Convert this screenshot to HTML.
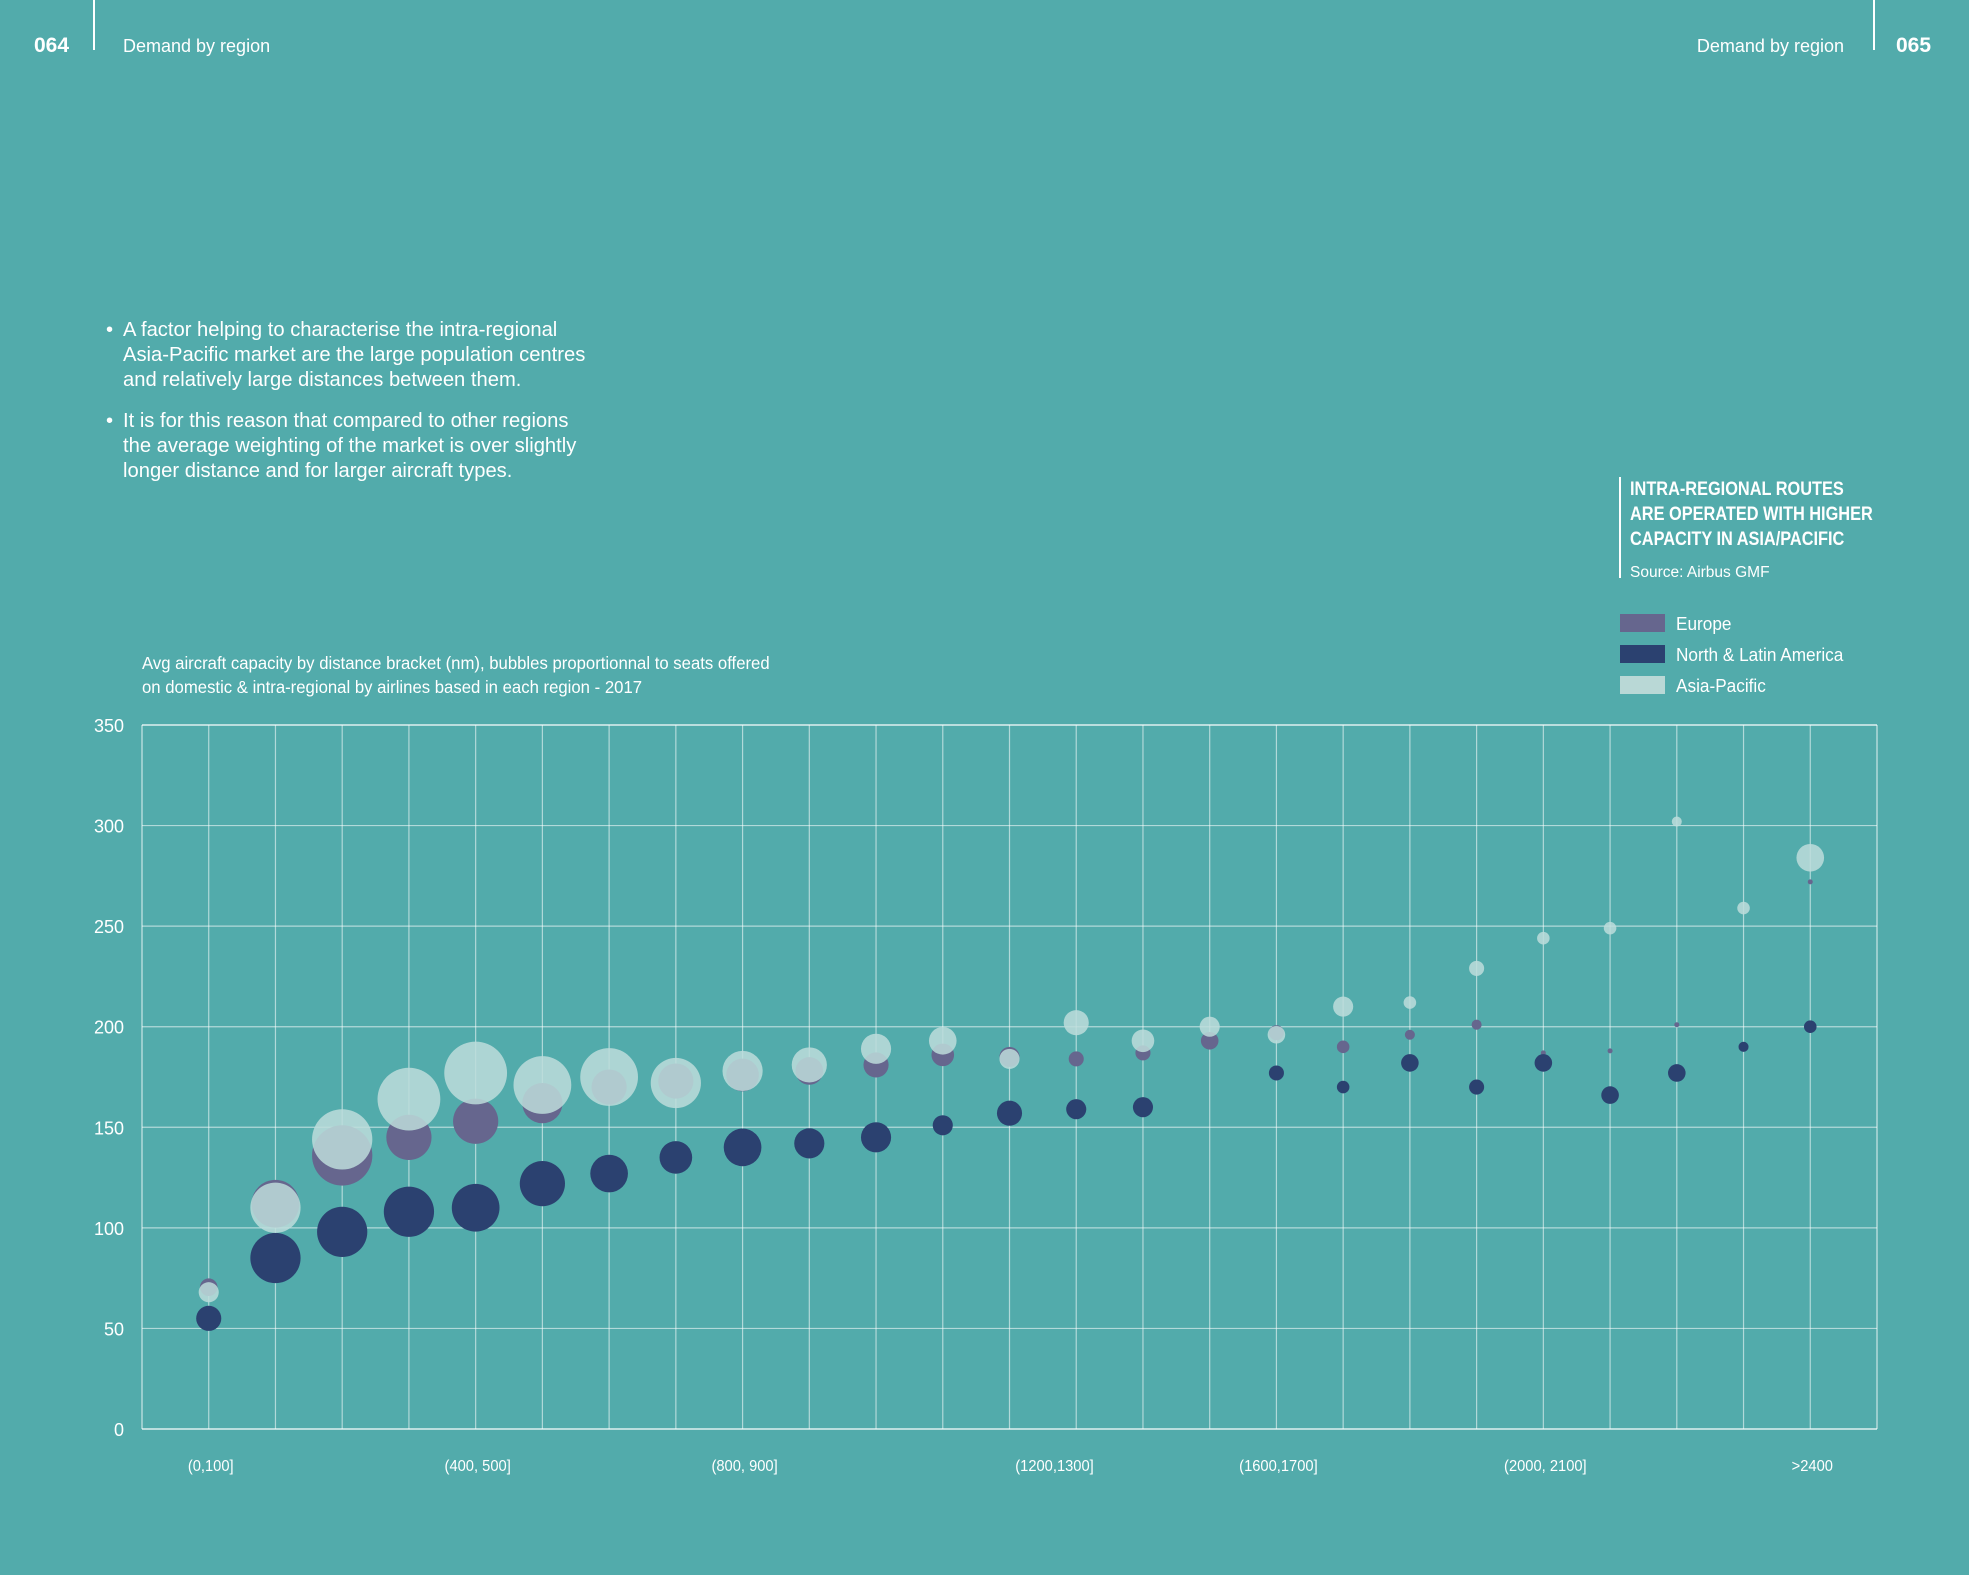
<!DOCTYPE html>
<html><head><meta charset="utf-8"><style>
html,body{margin:0;padding:0;background:#52abab;}
svg{display:block}
.t{font-family:"Liberation Sans",sans-serif;fill:#fff}
.n{font-family:"Liberation Sans Narrow","Liberation Sans",sans-serif;fill:#fff}
</style></head><body>
<svg id="chart" width="1969" height="1575" viewBox="0 0 1969 1575" xmlns="http://www.w3.org/2000/svg">
<rect width="1969" height="1575" fill="#52abab"/>
<g>
<text class="t" x="34" y="52" font-size="21" font-weight="bold">064</text>
<rect x="93" y="0" width="2" height="50" fill="#fff"/>
<text class="t" x="123" y="52" font-size="18">Demand by region</text>
<text class="t" x="1844" y="52" font-size="18" text-anchor="end">Demand by region</text>
<rect x="1873" y="0" width="2" height="50" fill="#fff"/>
<text class="t" x="1896" y="52" font-size="21" font-weight="bold">065</text>
</g>
<g class="t" font-size="20.2">
<text x="106" y="336">•</text>
<text x="123" y="336">A factor helping to characterise the intra-regional</text>
<text x="123" y="361">Asia-Pacific market are the large population centres</text>
<text x="123" y="386">and relatively large distances between them.</text>
<text x="106" y="427">•</text>
<text x="123" y="427">It is for this reason that compared to other regions</text>
<text x="123" y="452">the average weighting of the market is over slightly</text>
<text x="123" y="477">longer distance and for larger aircraft types.</text>
</g>
<g>
<rect x="1619" y="477" width="2" height="101" fill="#fff"/>
<g class="n" font-size="19" font-weight="bold" transform="translate(1630,0) scale(0.86,1)">
<text x="0" y="495">INTRA-REGIONAL ROUTES</text>
<text x="0" y="520">ARE OPERATED WITH HIGHER</text>
<text x="0" y="545">CAPACITY IN ASIA/PACIFIC</text>
</g>
<text class="t" x="1630" y="577" font-size="15.5">Source: Airbus GMF</text>
</g>
<g>
<g><rect x="1620" y="614" width="45" height="18" fill="#66668e"/><text class="n" font-size="18.5" transform="translate(1676,630) scale(0.93,1)">Europe</text></g>
<g><rect x="1620" y="645" width="45" height="18" fill="#2b4170"/><text class="n" font-size="18.5" transform="translate(1676,661) scale(0.93,1)">North &amp; Latin America</text></g>
<g><rect x="1620" y="676" width="45" height="18" fill="#b9d8d6"/><text class="n" font-size="18.5" transform="translate(1676,692) scale(0.93,1)">Asia-Pacific</text></g>
</g>
<g class="n" font-size="17.5" transform="translate(142,0) scale(0.956,1)">
<text x="0" y="669">Avg aircraft capacity by distance bracket (nm), bubbles proportionnal to seats offered</text>
<text x="0" y="693">on domestic &amp; intra-regional by airlines based in each region - 2017</text>
</g>
<g id="plot"></g>
</svg>
<script>
const categories = ["(0,100]","(100,200]","(200,300]","(300,400]","(400,500]","(500,600]","(600,700]","(700,800]","(800,900]","(900,1000]","(1000,1100]","(1100,1200]","(1200,1300]","(1300,1400]","(1400,1500]","(1500,1600]","(1600,1700]","(1700,1800]","(1800,1900]","(1900,2000]","(2000,2100]","(2100,2200]","(2200,2300]","(2300,2400]",">2400"];
const xTickLabels = {"(0,100]":"(0,100]","(400,500]":"(400, 500]","(800,900]":"(800, 900]","(1200,1300]":"(1200,1300]","(1600,1700]":"(1600,1700]","(2000,2100]":"(2000, 2100]",">2400":">2400"};
const yTicks = [0,50,100,150,200,250,300,350];
const europeCap = [70.5,112,136,145,153,162,170,173,176,178,181,186,185,184,187,193,197,190,196,201,187,188,201,null,272];
const europeSeats = [49,361,576,324,324,256,196,196,169,121,100,81,64,36,36,49,36,25,16,16,4,4,4,0,4];
const naCap = [55,85,98,108,110,122,127,135,140,142,145,151,157,159,160,null,177,170,182,170,182,166,177,190,200];
const naSeats = [100,400,400,400,361,324,225,169,225,144,144,64,100,64,64,0,36,25,49,36,49,49,49,16,25];
const apCap = [68,110,144,164,177,171,175,172,178,181,189,193,184,202,193,200,196,210,212,229,244,249,302,259,284];
const apSeats = [64,400,576,625,625,529,529,400,256,196,144,121,64,100,81,64,49,64,25,36,25,25,16,25,121];

const NS="http://www.w3.org/2000/svg";
const plot=document.getElementById('plot');
const L=142,R=1877,T=725,B=1429,yMax=350;
const step=(R-L)/(categories.length+1);
function xS(i){return L+(i+1)*step;}
function yS(v){return B-(v/yMax)*(B-T);}
function rS(s){return Math.sqrt(s)*1.256;}
function mk(tag,attrs){const e=document.createElementNS(NS,tag);for(const k in attrs)e.setAttribute(k,attrs[k]);plot.appendChild(e);return e;}

yTicks.forEach(v=>{
  const l=mk('line',{x1:L,x2:R,y1:yS(v),y2:yS(v),stroke:'rgba(255,255,255,0.55)','stroke-width':1.2});
  
  
  const t=mk('text',{x:124,y:yS(v)+7,'text-anchor':'end','font-size':18,class:'n'});
  t.textContent=v;
  
  
});
categories.forEach((c,i)=>{
  const l=mk('line',{x1:xS(i),x2:xS(i),y1:T,y2:B,stroke:'rgba(255,255,255,0.55)','stroke-width':1.2});
  
  
  if(xTickLabels[c]){
    const dx = c==="(1200,1300]" ? 45 : 2;
    const t=mk('text',{'text-anchor':'middle','font-size':16,class:'n',transform:'translate('+(xS(i)+dx)+',1471) scale(0.92,1)'});
    t.textContent=xTickLabels[c];
    
    
  }
});
[[L,T,L,B],[R,T,R,B],[L,T,R,T],[L,B,R,B]].forEach(a=>{
  const l=mk('line',{x1:a[0],y1:a[1],x2:a[2],y2:a[3],stroke:'rgba(255,255,255,0.6)','stroke-width':1.4});
  
  
});
function series(cap,seats,color,op,name){
  cap.forEach((v,i)=>{
    if(v==null||!seats[i])return;
    const c=mk('circle',{cx:xS(i),cy:yS(v),r:rS(seats[i]),fill:color,'fill-opacity':op});
    
    
  });
}
series(europeCap,europeSeats,'#66668e',1,'europe');
series(naCap,naSeats,'#2b4170',1,'north-latin-america');
series(apCap,apSeats,'#bddcda',0.85,'asia-pacific');
</script>
</body></html>
